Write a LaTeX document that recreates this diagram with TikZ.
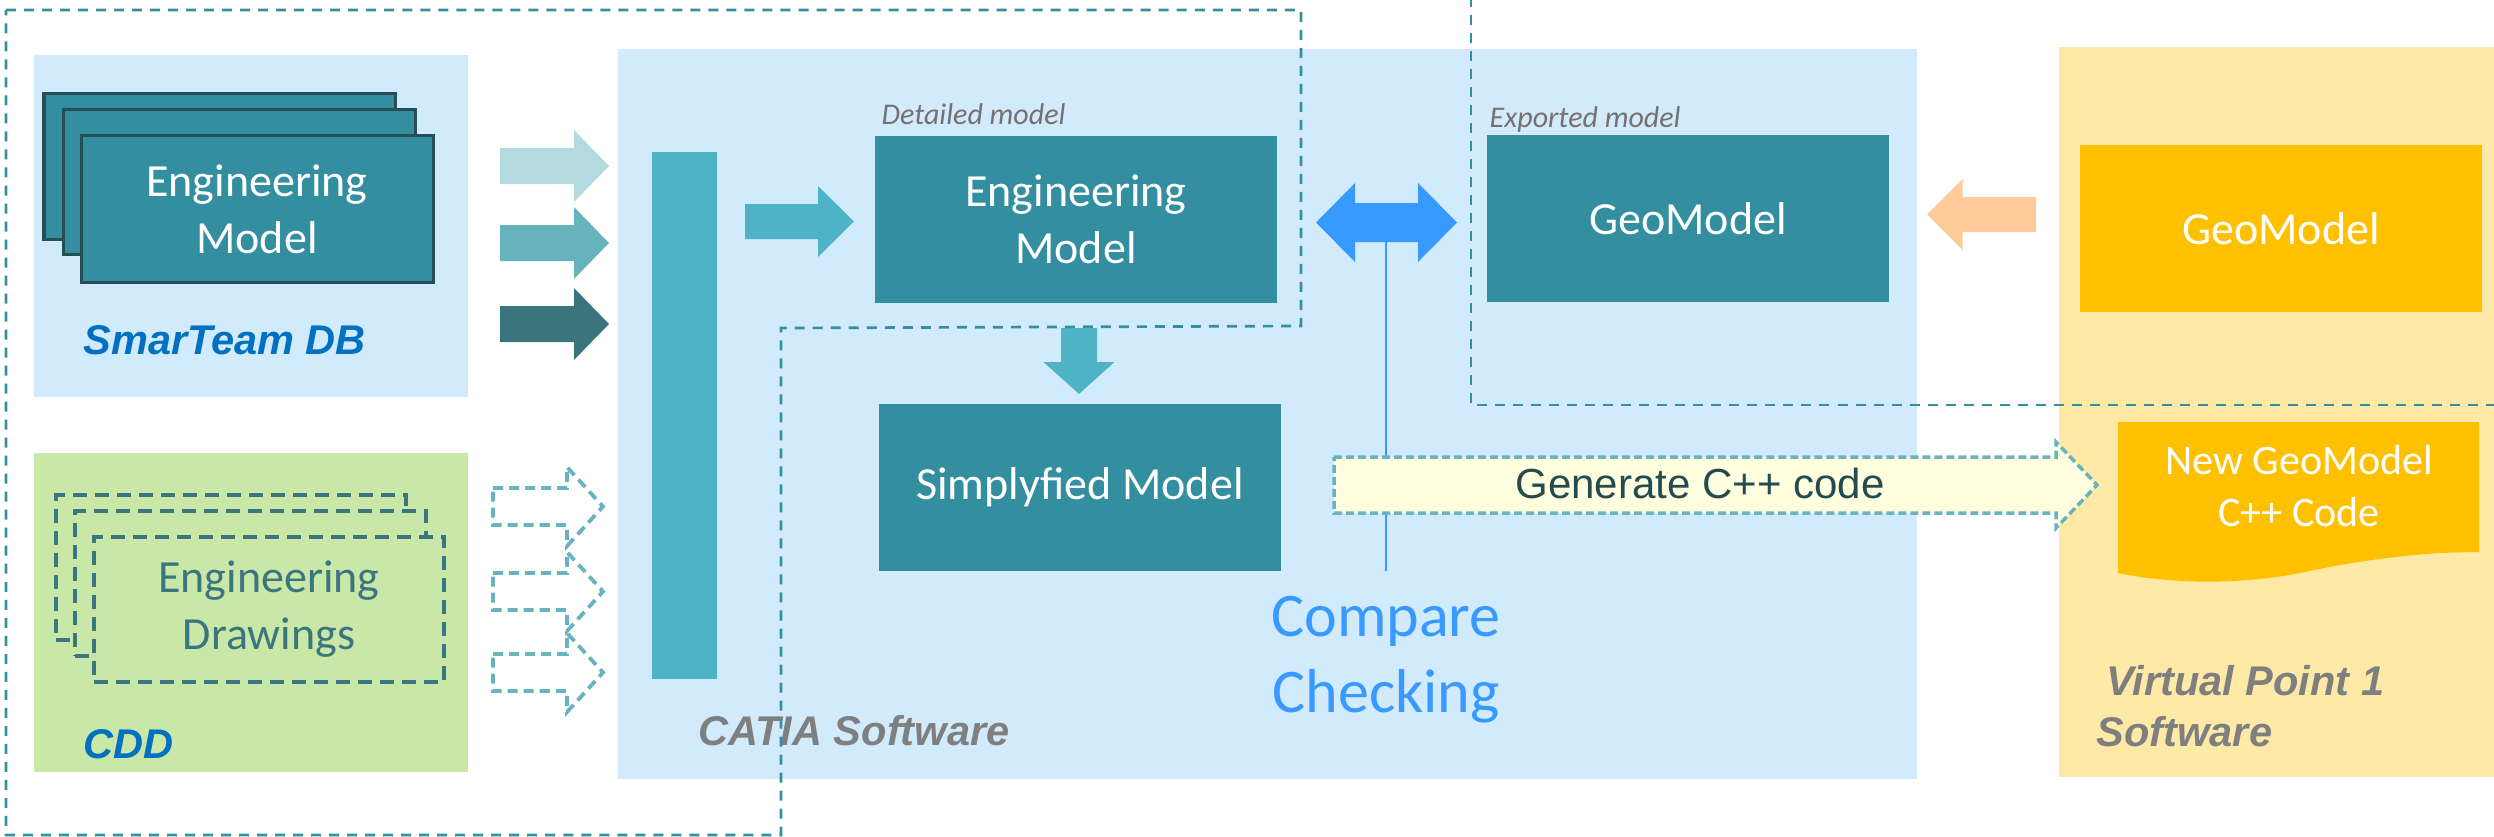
\documentclass[tikz,border=0pt]{standalone}
\usepackage{fontspec}
\setmainfont{Carlito}
\newfontfamily\arl{Liberation Sans}
\definecolor{bgblue}{HTML}{D2EBFC}
\definecolor{tealone}{HTML}{338E9F}
\definecolor{tealdark}{HTML}{264E56}
\definecolor{barc}{HTML}{4FB3C7}
\definecolor{arrA}{HTML}{B3DADE}
\definecolor{arrB}{HTML}{66B2BD}
\definecolor{arrC}{HTML}{3A747C}
\definecolor{greenbg}{HTML}{C9E7A6}
\definecolor{drawc}{HTML}{3B7580}
\definecolor{darr}{HTML}{67B3C0}
\definecolor{outl}{HTML}{3490A0}
\definecolor{peach}{HTML}{FECB99}
\definecolor{cmpblue}{HTML}{3899FE}
\definecolor{ylwbg}{HTML}{FFE9A6}
\definecolor{ylw}{HTML}{FFC000}
\definecolor{genfill}{HTML}{FFFFE0}
\definecolor{gentext}{HTML}{234B50}
\definecolor{lblblue}{HTML}{0070C0}
\definecolor{lblgrey}{HTML}{7F7F7F}
\definecolor{itgrey}{HTML}{767171}
% horizontal block arrow: style, x0, xhead, xtip, ycenter, half shaft, half head
\newcommand\harr[7][]{\path[#1] (#2,{#5-#6}) -- (#3,{#5-#6}) -- (#3,{#5-#7}) -- (#4,#5) -- (#3,{#5+#7}) -- (#3,{#5+#6}) -- (#2,{#5+#6}) -- cycle;}
% vertical block arrow: style, y0, yhead, ytip, xcenter, half shaft, half head
\newcommand\varr[7][]{\path[#1] ({#5-#6},#2) -- ({#5-#6},#3) -- ({#5-#7},#3) -- (#5,#4) -- ({#5+#7},#3) -- ({#5+#6},#3) -- ({#5+#6},#2) -- cycle;}
\begin{document}
\begin{tikzpicture}[x=0.01cm,y=-0.01cm,
  sz/.style 2 args={minimum width=#1*0.01cm, minimum height=#2*0.01cm},
  bgbox/.style={rectangle, draw=none, inner sep=0, outer sep=0},
  bigtext/.style={font=\fontsize{0.46cm}{0.57cm}\selectfont},
  tealbox/.style={rectangle, fill=tealone, draw=none, text=white, align=center, inner sep=0, bigtext},
  stackbox/.style={tealbox, draw=tealdark, line width=0.03cm},
  drawbox/.style={rectangle, fill=greenbg, draw=drawc, line width=0.045cm, dash pattern=on 0.14cm off 0.08cm, text=drawc, align=center, inner sep=0, bigtext},
  lbl/.style={font=\arl\bfseries\itshape\fontsize{0.415cm}{0.5cm}\selectfont, inner sep=0, anchor=base west},
  smalllbl/.style={font=\itshape\fontsize{0.30cm}{0.36cm}\selectfont, text=itgrey, inner sep=0, anchor=base west},
  dasharr/.style={draw=darr, line width=0.038cm, dash pattern=on 0.10cm off 0.06cm, line join=miter},
  regionline/.style={draw=outl, line width=0.027cm, dash pattern=on 0.10cm off 0.08cm}
]
\useasboundingbox (0,0) rectangle (2494,836);

% backgrounds
\node[bgbox, fill=bgblue, sz={434}{342}] (smbg) at (251,226) {};
\node[bgbox, fill=greenbg, sz={434}{319}] (cddbg) at (251,612.5) {};
\node[bgbox, fill=bgblue, sz={1299}{730}] (catbg) at (1267.5,414) {};
\node[bgbox, fill=ylwbg, sz={441}{730}] (vpbg) at (2279.5,412) {};

% SmarTeam stack
\node[stackbox, sz={351}{146}] (st1) at (219.5,166) {};
\node[stackbox, sz={352}{145}] (st2) at (239,181.5) {};
\node[stackbox, sz={352}{147}] (st3) at (257,209) {Engineering\\Model};

% CDD drawings stack
\node[drawbox, sz={350}{145}] (dr1) at (231,567.5) {};
\node[drawbox, sz={351}{145}] (dr2) at (250.5,583.5) {};
\node[drawbox, sz={350}{145}] (dr3) at (269,609.5) {Engineering\\Drawings};

% input arrows
\harr[fill=arrA]{500}{574}{609}{166}{18}{36}
\harr[fill=arrB]{500}{574}{609}{243}{18}{36}
\harr[fill=arrC]{500}{574}{609}{324}{18}{36}
\harr[dasharr]{493}{567}{603}{506.5}{18.5}{39.5}
\harr[dasharr]{493}{567}{603}{591.5}{18.5}{39.5}
\harr[dasharr]{493}{567}{603}{672.5}{18.5}{39.5}

% CATIA part
\node[bgbox, fill=barc, sz={65}{527}] (bar) at (684.5,415.5) {};
\harr[fill=barc]{745}{818}{854}{221.5}{17.5}{35.5}
\node[tealbox, sz={402}{167}] (dm) at (1076,219.5) {Engineering\\Model};
\varr[fill=barc]{328}{362}{394}{1079}{18}{35.5}
\node[tealbox, sz={402}{167}] (sm) at (1080,487.5) {Simplyfied Model};
\node[tealbox, sz={402}{167}] (geo) at (1688,218.5) {GeoModel};

% compare checking
\coordinate (cl1) at (1386,242);
\coordinate (cl2) at (1386,571);
\draw[cmpblue, line width=0.015cm] (cl1) -- (cl2);
\fill[cmpblue] (1316,222.5) -- (1355,183) -- (1355,203) -- (1418,203) -- (1418,183) -- (1457,222.5) -- (1418,262) -- (1418,242) -- (1355,242) -- (1355,262) -- cycle;
\node[text=cmpblue, font=\fontsize{0.62cm}{0.76cm}\selectfont, inner sep=0, anchor=base] (cmp1) at (1386,636) {Compare};
\node[text=cmpblue, font=\fontsize{0.62cm}{0.76cm}\selectfont, inner sep=0, anchor=base] (cmp2) at (1386,712) {Checking};

% Virtual Point part
\harr[fill=peach]{2036}{1962.5}{1927}{214.5}{17.5}{35.5}
\node[tealbox, fill=ylw, sz={402}{167}] (ygeo) at (2281,228.5) {GeoModel};
\fill[ylw] (2118,422) -- (2479,422) -- (2479,552) .. controls (2420,552) and (2360,560) .. (2300,573) .. controls (2240,585) and (2170,584) .. (2118,573) -- cycle;
\node[text=white, align=center, inner sep=0, font=\fontsize{0.42cm}{0.52cm}\selectfont] (newgeo) at (2299,486) {New GeoModel\\C++ Code};

% generate arrow
\harr[fill=genfill, draw=darr, line width=0.035cm, dash pattern=on 0.08cm off 0.04cm, line join=miter]{1334}{2056}{2097}{485}{28}{43}
\node[text=gentext, font=\arl\fontsize{0.42cm}{0.5cm}\selectfont, inner sep=0, anchor=base] (gen) at (1700,498) {Generate C++ code};

% labels
\node[lbl, text=lblblue] (smlbl) at (83,354) {SmarTeam DB};
\node[lbl, text=lblblue] (cddlbl) at (83,758) {CDD};
\node[lbl, text=lblgrey] (catlbl) at (698,745) {CATIA Software};
\node[lbl, text=lblgrey] (vp1) at (2106,695) {Virtual Point 1};
\node[lbl, text=lblgrey] (vp2) at (2096,746) {Software};
\node[smalllbl] (dmlbl) at (881,124) {Detailed model};
\node[smalllbl] (exlbl) at (1489,127) {Exported model};

% dashed regions
\draw[regionline] (6,10) -- (1301,10) -- (1301,326) -- (781,328) -- (781,835) -- (6,835) -- cycle;
\draw[regionline] (1471,-3) -- (1471,405) -- (2497,405);
\end{tikzpicture}
\end{document}
